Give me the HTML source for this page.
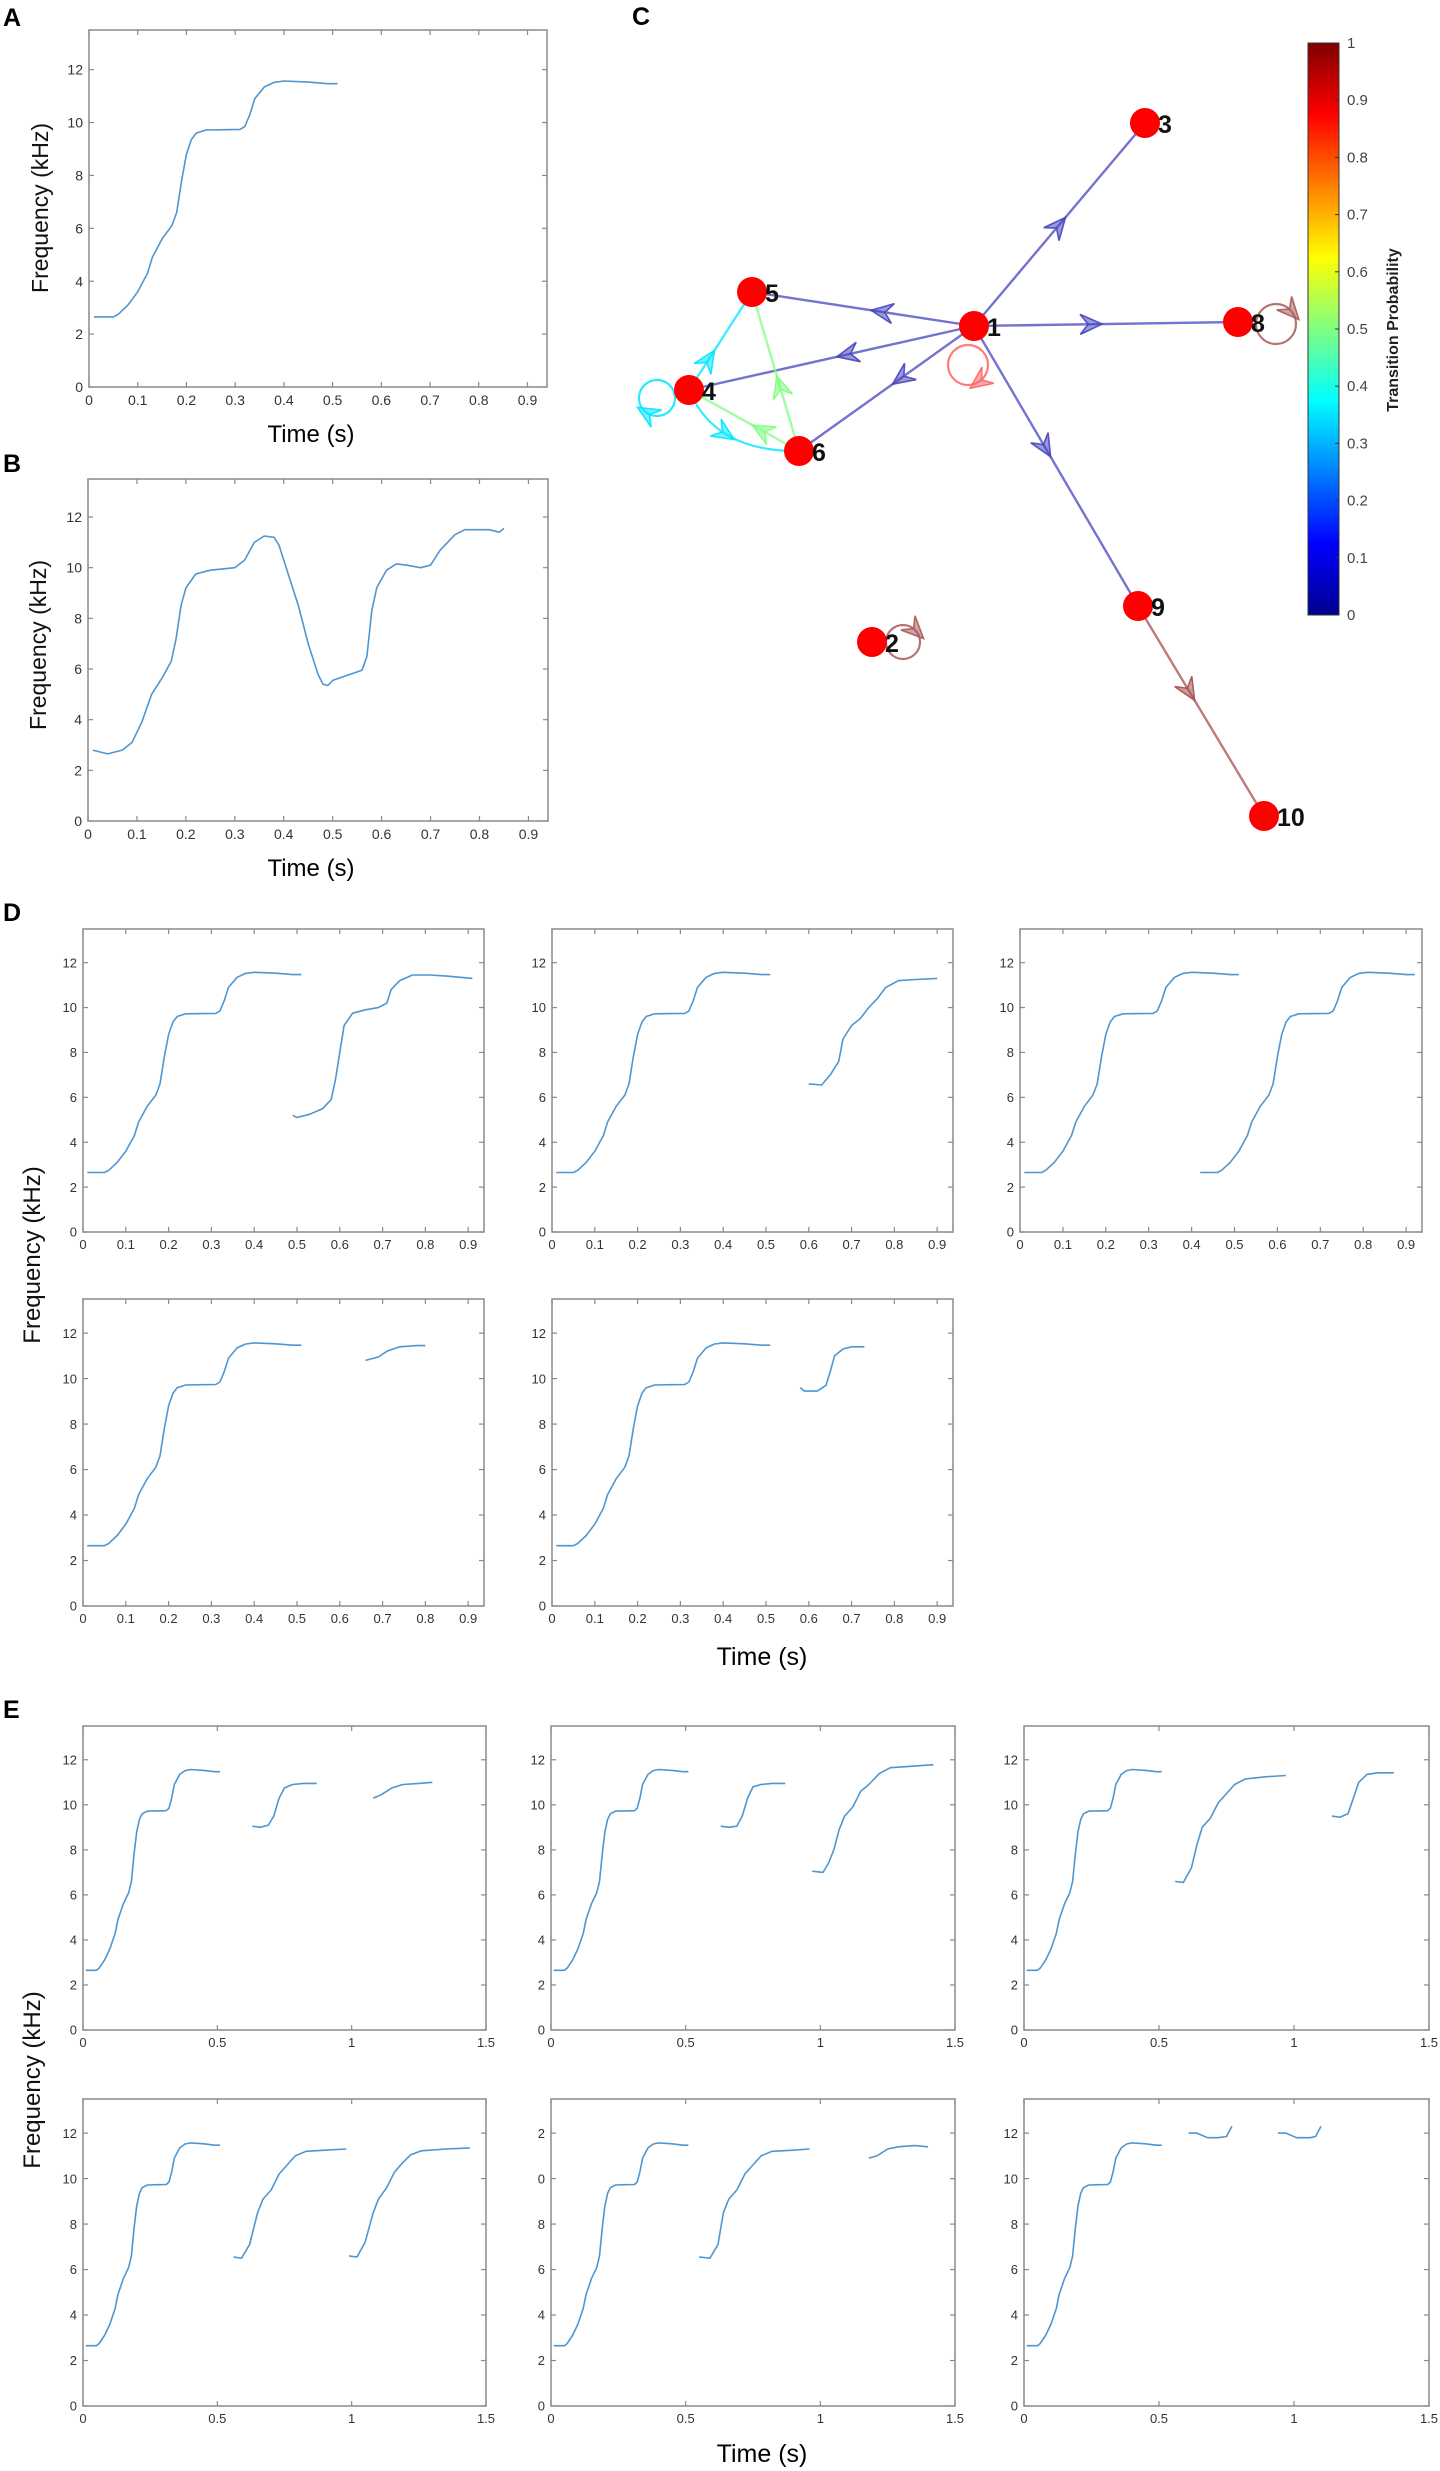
<!DOCTYPE html>
<html><head><meta charset="utf-8"><title>Song syllable figure</title>
<style>
html,body{margin:0;padding:0;background:#fff;}
svg{display:block;}
text{font-family:"Liberation Sans",Arial,sans-serif;}
</style></head>
<body>
<svg id="fig" xmlns="http://www.w3.org/2000/svg" width="1440" height="2471" viewBox="0 0 1440 2471"></svg>
<script>
// ---------- DATA ----------
const baseSyllable=[[0.01,2.65],[0.05,2.65],[0.06,2.75],[0.08,3.1],[0.10,3.6],[0.12,4.3],[0.13,4.9],[0.15,5.6],[0.17,6.1],[0.18,6.6],[0.19,7.8],[0.20,8.8],[0.21,9.35],[0.22,9.6],[0.24,9.72],[0.28,9.73],[0.31,9.74],[0.32,9.85],[0.33,10.3],[0.34,10.9],[0.36,11.35],[0.38,11.52],[0.40,11.57],[0.45,11.53],[0.49,11.47],[0.51,11.47]];
const panelB=[[0.01,2.8],[0.04,2.65],[0.07,2.8],[0.09,3.1],[0.11,3.9],[0.13,5.0],[0.15,5.6],[0.17,6.3],[0.18,7.2],[0.19,8.5],[0.20,9.2],[0.22,9.75],[0.25,9.9],[0.30,10.0],[0.32,10.3],[0.34,11.0],[0.36,11.25],[0.38,11.2],[0.39,10.9],[0.41,9.7],[0.43,8.5],[0.45,7.0],[0.47,5.8],[0.48,5.4],[0.49,5.35],[0.50,5.55],[0.53,5.75],[0.56,5.95],[0.57,6.5],[0.58,8.3],[0.59,9.2],[0.61,9.9],[0.63,10.15],[0.65,10.1],[0.68,10.0],[0.70,10.1],[0.72,10.7],[0.75,11.3],[0.77,11.5],[0.82,11.5],[0.84,11.4],[0.85,11.55]];
const d1Seg=[[0.49,5.2],[0.50,5.1],[0.53,5.25],[0.56,5.5],[0.58,5.9],[0.59,6.8],[0.60,8.0],[0.61,9.2],[0.63,9.75],[0.66,9.9],[0.69,10.0],[0.71,10.2],[0.72,10.8],[0.74,11.2],[0.77,11.45],[0.81,11.45],[0.85,11.4],[0.91,11.3]];
const d2Seg=[[0.60,6.6],[0.63,6.55],[0.65,7.0],[0.67,7.6],[0.68,8.6],[0.70,9.2],[0.72,9.5],[0.74,10.0],[0.76,10.4],[0.78,10.9],[0.81,11.2],[0.85,11.25],[0.90,11.3]];
const d3Seg=[[0.42,2.65],[0.46,2.65],[0.47,2.75],[0.49,3.1],[0.51,3.6],[0.53,4.3],[0.54,4.9],[0.56,5.6],[0.58,6.1],[0.59,6.6],[0.60,7.8],[0.61,8.8],[0.62,9.35],[0.63,9.6],[0.65,9.72],[0.69,9.73],[0.72,9.74],[0.73,9.85],[0.74,10.3],[0.75,10.9],[0.77,11.35],[0.79,11.52],[0.81,11.57],[0.86,11.53],[0.90,11.47],[0.92,11.47]];
const d4Seg=[[0.66,10.8],[0.69,10.95],[0.71,11.2],[0.74,11.4],[0.78,11.45],[0.80,11.45]];
const d5Seg=[[0.58,9.6],[0.59,9.45],[0.62,9.45],[0.64,9.7],[0.65,10.3],[0.66,11.0],[0.68,11.3],[0.70,11.4],[0.73,11.4]];
const e1SegA=[[0.63,9.05],[0.66,9.0],[0.69,9.1],[0.71,9.5],[0.73,10.3],[0.75,10.75],[0.78,10.9],[0.82,10.95],[0.87,10.95]];
const e1SegB=[[1.08,10.3],[1.11,10.45],[1.15,10.75],[1.19,10.9],[1.25,10.95],[1.30,11.0]];
const e2SegA=[[0.63,9.05],[0.66,9.0],[0.69,9.05],[0.71,9.5],[0.73,10.3],[0.75,10.8],[0.78,10.9],[0.82,10.95],[0.87,10.95]];
const e2SegB=[[0.97,7.05],[1.01,7.0],[1.03,7.4],[1.05,8.0],[1.07,8.9],[1.09,9.5],[1.12,9.9],[1.15,10.6],[1.18,10.9],[1.22,11.4],[1.26,11.65],[1.35,11.72],[1.42,11.78]];
const e3SegA=[[0.56,6.6],[0.59,6.55],[0.62,7.2],[0.64,8.2],[0.66,9.0],[0.69,9.4],[0.72,10.1],[0.75,10.5],[0.78,10.9],[0.82,11.15],[0.90,11.25],[0.97,11.3]];
const e3SegB=[[1.14,9.5],[1.17,9.45],[1.20,9.6],[1.22,10.3],[1.24,11.0],[1.27,11.35],[1.31,11.42],[1.37,11.42]];
const e4SegA=[[0.56,6.55],[0.59,6.5],[0.62,7.1],[0.65,8.5],[0.67,9.1],[0.70,9.5],[0.73,10.2],[0.76,10.6],[0.79,11.0],[0.83,11.2],[0.90,11.25],[0.98,11.3]];
const e4SegB=[[0.99,6.6],[1.02,6.55],[1.05,7.2],[1.08,8.5],[1.10,9.1],[1.13,9.6],[1.16,10.3],[1.19,10.7],[1.22,11.05],[1.26,11.22],[1.35,11.3],[1.44,11.35]];
const e5SegA=[[0.55,6.55],[0.59,6.5],[0.62,7.1],[0.64,8.5],[0.66,9.1],[0.69,9.5],[0.72,10.2],[0.75,10.6],[0.78,11.0],[0.82,11.2],[0.90,11.25],[0.96,11.3]];
const e5SegB=[[1.18,10.9],[1.21,11.0],[1.25,11.3],[1.29,11.4],[1.35,11.45],[1.40,11.4]];
const e6SegA=[[0.61,12.0],[0.64,12.0],[0.68,11.8],[0.72,11.8],[0.75,11.85],[0.77,12.3]];
const e6SegB=[[0.94,12.0],[0.97,12.0],[1.01,11.8],[1.06,11.8],[1.08,11.85],[1.10,12.3]];
const yTicks=[0,2,4,6,8,10,12];
const yTickLabels=["0","2","4","6","8","10","12"];
const yTickLabelsE5=["0","2","4","6","8","0","2"];
const xTicksShort=[0,0.1,0.2,0.3,0.4,0.5,0.6,0.7,0.8,0.9];
const xTickLabelsShort=["0","0.1","0.2","0.3","0.4","0.5","0.6","0.7","0.8","0.9"];
const xTicksLong=[0,0.5,1,1.5];
const xTickLabelsLong=["0","0.5","1","1.5"];
const cbTicks=[0,0.1,0.2,0.3,0.4,0.5,0.6,0.7,0.8,0.9,1];
const cbTickLabels=["0","0.1","0.2","0.3","0.4","0.5","0.6","0.7","0.8","0.9","1"];
// graph nodes: id, x, y (pixel layout of the network)
const nodeIds=["1","2","3","4","5","6","8","9","10"];
const nodeX=[974,872,1145,689,752,799,1238,1138,1264];
const nodeY=[326,642,123,390,292,451,322,606,816];
// edges: from, to, probability
const edgeFrom=["1","1","1","1","1","1","9","4","6","6","4"];
const edgeTo=["3","5","8","4","6","9","10","5","5","4","6"];
const edgeProb=[0.12,0.12,0.12,0.12,0.12,0.12,0.9,0.35,0.5,0.5,0.35];
const loopNodes=["1","8","4","2"];
const loopProb=[0.85,0.92,0.35,0.92];

// ---------- HELPERS ----------
const NS="http://www.w3.org/2000/svg";
const svg=document.getElementById('fig');
function el(tag,parent,attrs){const e=document.createElementNS(NS,tag);for(const k in attrs)e.setAttribute(k,attrs[k]);(parent||svg).appendChild(e);return e;}
function txt(parent,x,y,s,attrs){const t=el('text',parent,Object.assign({x:x,y:y},attrs||{}));t.textContent=s;return t;}
function jet(v){const stops=[[0,[0,0,143]],[0.125,[0,0,255]],[0.375,[0,255,255]],[0.625,[255,255,0]],[0.875,[255,0,0]],[1,[128,0,0]]];for(let i=1;i<stops.length;i++){if(v<=stops[i][0]){const a=stops[i-1],b=stops[i];const f=(v-a[0])/(b[0]-a[0]);const c=a[1].map((c0,j)=>Math.round(c0+(b[1][j]-c0)*f));return 'rgb('+c.join(',')+')';}}return 'rgb(128,0,0)';}
function edgeColor(p){if(p<0.2)return 'rgb(70,70,190)';if(p>0.85)return 'rgb(165,80,80)';const c=jet(p);return c;}

function axes(name,L,T,R,B,xmax,xt,xtl,yt,ytl,fs,fam){
  const g=el('g',svg,{});
  
  
  const sx=v=>L+(v/xmax)*(R-L), sy=v=>B-(v/13.5)*(B-T);
  const box=el('rect',g,{x:L,y:T,width:R-L,height:B-T,fill:'none',stroke:'#8a8a8a','stroke-width':1.5});
  
  
  xt.forEach((v,i)=>{
    const x=sx(v);
    el('line',g,{x1:x,y1:B,x2:x,y2:B-5,stroke:'#8a8a8a','stroke-width':1.2});
    el('line',g,{x1:x,y1:T,x2:x,y2:T+5,stroke:'#8a8a8a','stroke-width':1.2});
    const t=txt(g,x,B+fs+4,xtl[i],{'text-anchor':'middle','font-size':fs,fill:'#333','font-family':fam});
    
    
  });
  yt.forEach((v,i)=>{
    const y=sy(v);
    el('line',g,{x1:L,y1:y,x2:L+5,y2:y,stroke:'#8a8a8a','stroke-width':1.2});
    el('line',g,{x1:R,y1:y,x2:R-5,y2:y,stroke:'#8a8a8a','stroke-width':1.2});
    const t=txt(g,L-6,y+fs*0.36,ytl[i],{'text-anchor':'end','font-size':fs,fill:'#333','font-family':fam});
    
    
  });
  return {g,sx,sy};
}
function series(ax,pts,name){
  const d=pts.map((p,i)=>(i?'L':'M')+ax.sx(p[0]).toFixed(1)+' '+ax.sy(p[1]).toFixed(1)).join(' ');
  const p=el('path',ax.g,{d:d,fill:'none',stroke:'#4f96d0','stroke-width':1.6,'stroke-linejoin':'round'});
  
  
}
function label(x,y,s,name,attrs){const t=txt(svg,x,y,s,attrs);return t;}
function ylab(x,y,s,fs){return label(x,y,s,'y-axis-title',{'text-anchor':'middle','font-size':fs,fill:'#111',transform:'rotate(-90 '+x+' '+y+')'});}

// ---------- PANEL LETTERS ----------
label(3,26,'A','panel-label-a',{'font-size':25,'font-weight':'bold'});
label(3,472,'B','panel-label-b',{'font-size':25,'font-weight':'bold'});
label(632,25,'C','panel-label-c',{'font-size':25,'font-weight':'bold'});
label(3,921,'D','panel-label-d',{'font-size':25,'font-weight':'bold'});
label(3,1718,'E','panel-label-e',{'font-size':25,'font-weight':'bold'});

// ---------- A ----------
const axA=axes('panel-a-axes',89,30,547,387,0.94,xTicksShort,xTickLabelsShort,yTicks,yTickLabels,14,'"Liberation Sans",sans-serif');
series(axA,baseSyllable,'contour-a');
ylab(48,208,'Frequency (kHz)',23);
label(311,442,'Time (s)','x-axis-title-a',{'text-anchor':'middle','font-size':24});
// ---------- B ----------
const axB=axes('panel-b-axes',88,479,548,821,0.94,xTicksShort,xTickLabelsShort,yTicks,yTickLabels,14,'"Liberation Sans",sans-serif');
series(axB,panelB,'contour-b');
ylab(46,645,'Frequency (kHz)',23);
label(311,876,'Time (s)','x-axis-title-b',{'text-anchor':'middle','font-size':24});

// ---------- C (network) ----------
const gC=el('g',svg,{});


function npos(id){const i=nodeIds.indexOf(id);return [nodeX[i],nodeY[i]];}
function arrowHead(g,x,y,dx,dy,col){
  const l=Math.hypot(dx,dy);dx/=l;dy/=l;const nx=-dy,ny=dx;
  const tip=[x+dx*12,y+dy*12],bl=[x-dx*10+nx*10,y-dy*10+ny*10],br=[x-dx*10-nx*10,y-dy*10-ny*10],nt=[x-dx*2,y-dy*2];
  const a=el('path',g,{d:'M'+tip+' L'+bl+' L'+nt+' L'+br+' Z',fill:col,'fill-opacity':0.55,stroke:col,'stroke-width':1.6,'stroke-opacity':0.9});
  
  
}
const arrowFrac=[0.49,0.41,0.44,0.44,0.41,0.43,0.4,0.3,0.4,0.33,0.5];
edgeFrom.forEach((f,i)=>{
  const a=npos(f),b=npos(edgeTo[i]);const col=edgeColor(edgeProb[i]);
  if(f==='4'&&edgeTo[i]==='6'){
    const cx=715,cy=452;
    const e=el('path',gC,{d:'M'+a+' Q'+cx+' '+cy+' '+b,fill:'none',stroke:col,'stroke-width':2.2,'stroke-opacity':0.8});
    
    
    const t=0.45,px=(1-t)*(1-t)*a[0]+2*t*(1-t)*cx+t*t*b[0],py=(1-t)*(1-t)*a[1]+2*t*(1-t)*cy+t*t*b[1];
    arrowHead(gC,px,py,2*(1-t)*(cx-a[0])+2*t*(b[0]-cx),2*(1-t)*(cy-a[1])+2*t*(b[1]-cy),col);
    return;
  }
  const e=el('line',gC,{x1:a[0],y1:a[1],x2:b[0],y2:b[1],stroke:col,'stroke-width':2.4,'stroke-opacity':0.75});
  
  
  const t=arrowFrac[i];arrowHead(gC,a[0]+(b[0]-a[0])*t,a[1]+(b[1]-a[1])*t,b[0]-a[0],b[1]-a[1],col);
});
// self loops: offset of loop centre relative to node
const loopDX=[-6,38,-32,31],loopDY=[39,2,8,0],loopR=[20,20,18,17];
loopNodes.forEach((n,i)=>{
  const p=npos(n);const col=loopProb[i]>0.9?'rgb(170,90,90)':(loopProb[i]>0.8?'rgb(255,100,100)':jet(loopProb[i]));
  const cx=p[0]+loopDX[i],cy=p[1]+loopDY[i];
  const c=el('circle',gC,{cx:cx,cy:cy,r:loopR[i],fill:'none',stroke:col,'stroke-width':2.2,'stroke-opacity':0.85});
  
  
  const ang=Math.atan2(-loopDY[i],-loopDX[i])+Math.PI*0.75;
  const ax=cx+loopR[i]*Math.cos(ang),ay=cy+loopR[i]*Math.sin(ang);
  arrowHead(gC,ax,ay,-Math.sin(ang),Math.cos(ang),col);
});
nodeIds.forEach((id,i)=>{
  const c=el('circle',gC,{cx:nodeX[i],cy:nodeY[i],r:15,fill:'#ff0000'});
  
  
  const t=txt(gC,nodeX[i]+13,nodeY[i]+10,id,{'font-size':25,'font-weight':'bold',fill:'#111'});
  
  
});
// colorbar
const defs=el('defs',svg,{});
const lg=el('linearGradient',defs,{id:'jetg',x1:0,y1:1,x2:0,y2:0});
[[0,'#00008f'],[0.125,'#0000ff'],[0.375,'#00ffff'],[0.625,'#ffff00'],[0.875,'#ff0000'],[1,'#800000']].forEach(s=>el('stop',lg,{offset:s[0],'stop-color':s[1]}));
const cbT=43,cbB=615,cbL=1308,cbR=1339;
const cb=el('rect',svg,{x:cbL,y:cbT,width:cbR-cbL,height:cbB-cbT,fill:'url(#jetg)',stroke:'#333','stroke-width':1});


cbTicks.forEach((v,i)=>{
  const y=cbB-v*(cbB-cbT);
  el('line',svg,{x1:cbR,y1:y,x2:cbR-4,y2:y,stroke:'#333','stroke-width':1});
  label(cbR+8,y+5,cbTickLabels[i],'colorbar-tick-label',{'font-size':15,fill:'#444'});
});
const cbl=label(1398,330,'Transition Probability','colorbar-title',{'text-anchor':'middle','font-size':16,'font-weight':'bold',fill:'#222',transform:'rotate(-90 1398 330)'});

// ---------- D ----------
const narrow='"Liberation Sans Narrow","Liberation Sans",sans-serif';
const dCols=[[83,484],[552,953],[1020,1422]];
const dRows=[[929,1232],[1299,1606]];
const dSegs=[[d1Seg],[d2Seg],[d3Seg],[d4Seg],[d5Seg]];
dSegs.forEach((segs,i)=>{
  const c=dCols[i%3],r=dRows[Math.floor(i/3)];
  const ax=axes('panel-d-plot-'+(i+1),c[0],r[0],c[1],r[1],0.937,xTicksShort,xTickLabelsShort,yTicks,yTickLabels,13,narrow);
  series(ax,baseSyllable,'contour-d'+(i+1)+'-base');
  segs.forEach((s,j)=>series(ax,s,'contour-d'+(i+1)+'-seg'+(j+1)));
});
ylab(40,1255,'Frequency (kHz)',24);
label(762,1665,'Time (s)','x-axis-title-d',{'text-anchor':'middle','font-size':25,'font-family':narrow});

// ---------- E ----------
const eCols=[[83,486],[551,955],[1024,1429]];
const eRows=[[1726,2030],[2099,2406]];
const eSegs=[[e1SegA,e1SegB],[e2SegA,e2SegB],[e3SegA,e3SegB],[e4SegA,e4SegB],[e5SegA,e5SegB],[e6SegA,e6SegB]];
eSegs.forEach((segs,i)=>{
  const c=eCols[i%3],r=eRows[Math.floor(i/3)];
  const yl=(i===4)?yTickLabelsE5:yTickLabels;
  const ax=axes('panel-e-plot-'+(i+1),c[0],r[0],c[1],r[1],1.5,xTicksLong,xTickLabelsLong,yTicks,yl,13,narrow);
  series(ax,baseSyllable,'contour-e'+(i+1)+'-base');
  segs.forEach((s,j)=>series(ax,s,'contour-e'+(i+1)+'-seg'+(j+1)));
});
ylab(40,2080,'Frequency (kHz)',24);
label(762,2462,'Time (s)','x-axis-title-e',{'text-anchor':'middle','font-size':25,'font-family':narrow});
</script>
</body></html>
